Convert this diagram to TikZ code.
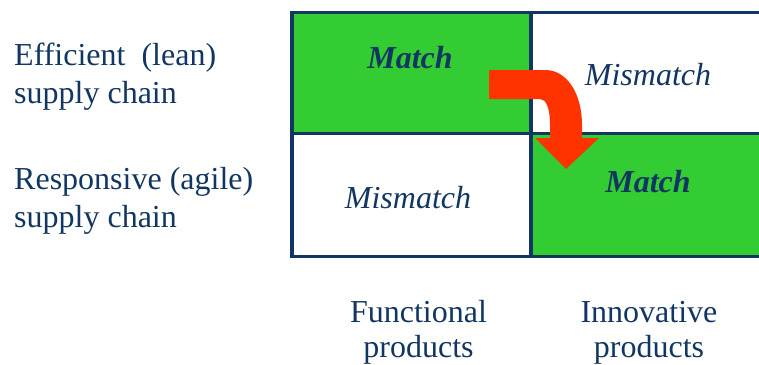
\documentclass[tikz,border=0pt]{standalone}
\usepackage{fontspec}
\setmainfont{Liberation Serif}
\definecolor{navy}{RGB}{18,54,98}
\definecolor{matchgreen}{RGB}{51,204,51}
\definecolor{arrowred}{RGB}{255,51,0}

\begin{document}
\begin{tikzpicture}[x=1pt, y=-1pt, every node/.style={inner sep=0pt, text=navy},
	label text/.style={font=\fontsize{32}{38}\selectfont, align=left, anchor=base west},
	axis text/.style={font=\fontsize{32}{35}\selectfont, align=center, anchor=base},
	cell text/.style={font=\fontsize{32}{36}\selectfont\itshape, anchor=base},
	grid line/.style={draw=navy, line width=3.5pt},]

\useasboundingbox (0,0) rectangle (759,364);
\clip (0,0) rectangle (759,364);

% cells
\fill[matchgreen] (292,12.5) rectangle (531,133.5);
\fill[matchgreen] (531,133.5) rectangle (770,256.5);
\draw[grid line] (292,12.5) rectangle (770,256.5);
\draw[grid line] (531,12.5) -- (531,256.5);
\draw[grid line] (292,133.5) -- (770,133.5);

% row labels (base = last line)
\node[label text] (lean) at (14,103) {Efficient\ \ (lean)\\supply chain};
\node[label text] (agile) at (14,227) {Responsive (agile)\\supply chain};

% column labels
\node[axis text] (functional) at (418.5,357) {Functional\\products};
\node[axis text] (innovative) at (649,357) {Innovative\\products};

% cell texts
\node[cell text, font=\fontsize{32}{36}\selectfont\bfseries\itshape] (match1) at (410,68) {Match};
\node[cell text] (mismatch1) at (648,85) {Mismatch};
\node[cell text] (mismatch2) at (408,208) {Mismatch};
\node[cell text, font=\fontsize{32}{36}\selectfont\bfseries\itshape] (match2) at (648,192) {Match};

% arrow
\fill[arrowred] (489,70) -- (545,70) .. controls (568,70) and (582,95) .. (582,125)
	-- (582,138) -- (599,138) -- (566,169) -- (535,138) -- (550,138) -- (550,125)
	.. controls (550,108) and (546,99) .. (540,99) -- (489,99) -- cycle;
\end{tikzpicture}
\end{document}
